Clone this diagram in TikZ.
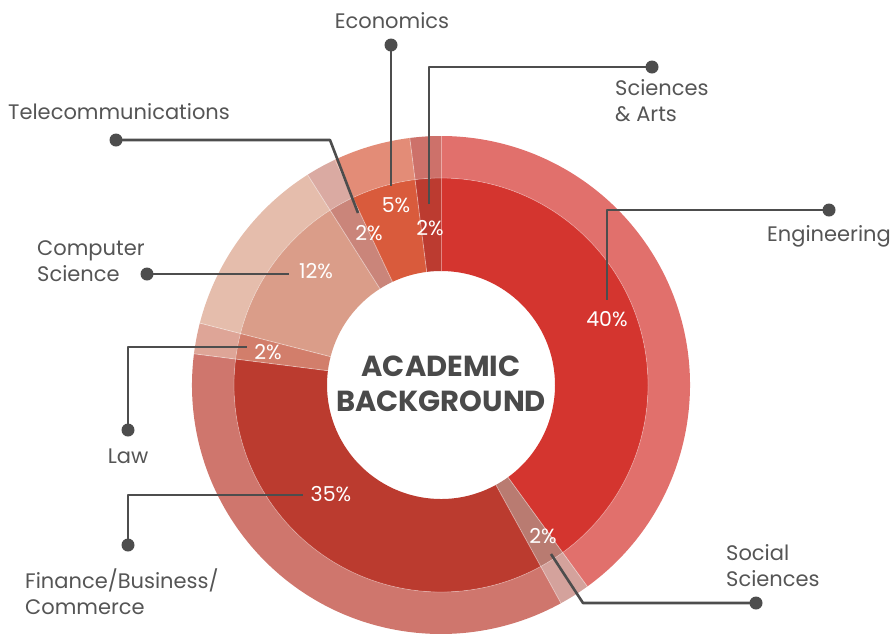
\documentclass[tikz,border=0pt]{standalone}
\usepackage{fontspec}
\setmainfont{Poppins}
\definecolor{labelgray}{HTML}{555555}
\definecolor{linegray}{HTML}{4D4D4D}
\definecolor{titlegray}{HTML}{4A4A4A}
\definecolor{engIn}{HTML}{D4352F}\definecolor{engOut}{HTML}{E1706C}
\definecolor{socIn}{HTML}{B97B71}\definecolor{socOut}{HTML}{D4A29C}
\definecolor{finIn}{HTML}{BB3B2F}\definecolor{finOut}{HTML}{CF766D}
\definecolor{lawIn}{HTML}{D27E6B}\definecolor{lawOut}{HTML}{DEA597}
\definecolor{csIn}{HTML}{DA9D89}\definecolor{csOut}{HTML}{E5BDAC}
\definecolor{telIn}{HTML}{CA857A}\definecolor{telOut}{HTML}{DAAAA2}
\definecolor{ecoIn}{HTML}{D95B3C}\definecolor{ecoOut}{HTML}{E38C77}
\definecolor{saIn}{HTML}{BC3B30}\definecolor{saOut}{HTML}{CD716A}
\newcommand\ringsector[5]{\fill[#5] ([shift={(C)}]#1:#3) arc[start angle=#1,end angle=#2,radius=#3] -- ([shift={(C)}]#2:#4) arc[start angle=#2,end angle=#1,radius=#4] -- cycle;}
\begin{document}
\begin{tikzpicture}[x=1pt,y=1pt,
  lbl/.style={font=\fontsize{21}{25.5}\selectfont, text=labelgray, inner sep=0pt},
  pct/.style={font=\fontsize{20.5}{22}\selectfont, text=white, inner sep=0pt},
  lead/.style={draw=linegray, line width=2.6pt, line join=round},
  dotn/.style={circle, fill=linegray, minimum size=13pt, inner sep=0pt}]
\useasboundingbox (0,0) rectangle (895,-633);
\coordinate (C) at (441,-385);
% inner ring
\ringsector{90}{-54}{114}{207}{engIn}
\ringsector{-54}{-61.2}{114}{207}{socIn}
\ringsector{-61.2}{-187.2}{114}{207}{finIn}
\ringsector{-187.2}{-194.4}{114}{207}{lawIn}
\ringsector{-194.4}{-237.6}{114}{207}{csIn}
\ringsector{-237.6}{-244.8}{114}{207}{telIn}
\ringsector{-244.8}{-262.8}{114}{207}{ecoIn}
\ringsector{-262.8}{-270}{114}{207}{saIn}
% outer ring
\ringsector{90}{-54}{207}{249}{engOut}
\ringsector{-54}{-61.2}{207}{249}{socOut}
\ringsector{-61.2}{-187.2}{207}{249}{finOut}
\ringsector{-187.2}{-194.4}{207}{249}{lawOut}
\ringsector{-194.4}{-237.6}{207}{249}{csOut}
\ringsector{-237.6}{-244.8}{207}{249}{telOut}
\ringsector{-244.8}{-262.8}{207}{249}{ecoOut}
\ringsector{-262.8}{-270}{207}{249}{saOut}
\foreach \a in {90,-54,-61.2,-187.2,-194.4,-237.6,-244.8,-262.8}
  \draw[white, opacity=0.4, line width=0.8pt] ([shift={(C)}]\a:114) -- ([shift={(C)}]\a:249);
\draw[white, opacity=0.25, line width=0.8pt] (C) circle (207);
% centre title
\node[name=title, font=\fontsize{29}{35}\selectfont\bfseries, text=titlegray, align=center, inner sep=0pt] at (441,-384) {ACADEMIC\\BACKGROUND};
% percentages
\node[pct, name=p1] at (607,-319) {40\%};
\node[pct, name=p2] at (543,-536) {2\%};
\node[pct, name=p3] at (331,-494) {35\%};
\node[pct, name=p4] at (268,-352) {2\%};
\node[pct, name=p5] at (316,-271) {12\%};
\node[pct, name=p6] at (369,-233) {2\%};
\node[pct, name=p7] at (396,-205) {5\%};
\node[pct, name=p8] at (430,-228) {2\%};
% labels
\node[lbl, anchor=base, name=lEco] at (392,-28) {Economics};
\node[lbl, anchor=west, align=left, name=lSA] at (615,-100.5) {Sciences\\\& Arts};
\node[lbl, anchor=base west, name=lTel] at (8,-119) {Telecommunications};
\node[lbl, anchor=west, align=left, name=lCS] at (37,-261) {Computer\\Science};
\node[lbl, anchor=base, name=lLaw] at (128,-463) {Law};
\node[lbl, anchor=west, align=left, name=lFin] at (25,-591.5) {Finance/Business/\\Commerce};
\node[lbl, anchor=west, align=left, name=lSoc] at (726,-565.5) {Social\\Sciences};
\node[lbl, anchor=base east, name=lEng] at (891,-241) {Engineering};
% leader dots
\node[dotn, name=dEco] at (391,-45) {};
\node[dotn, name=dSA] at (652,-67) {};
\node[dotn, name=dTel] at (116,-140) {};
\node[dotn, name=dCS] at (147,-274) {};
\node[dotn, name=dLaw] at (128,-430) {};
\node[dotn, name=dFin] at (128,-545) {};
\node[dotn, name=dSoc] at (756,-603) {};
\node[dotn, name=dEng] at (829,-210) {};
% leader ends and bends
\coordinate (eEco) at (391,-186);
\coordinate (eSA) at (429,-204); \coordinate (bSA) at (429,-67);
\coordinate (eTel) at (358,-213); \coordinate (bTel) at (330,-140);
\coordinate (eCS) at (289,-274);
\coordinate (eLaw) at (247,-347); \coordinate (bLaw) at (128,-347);
\coordinate (eFin) at (303,-495); \coordinate (bFin) at (128,-495);
\coordinate (eSoc) at (551,-554); \coordinate (bSoc) at (583,-603);
\coordinate (eEng) at (607,-300); \coordinate (bEng) at (607,-210);
\draw[lead] (dEco.center) -- (eEco);
\draw[lead] (eSA) -- (bSA) -- (dSA.center);
\draw[lead] (dTel.center) -- (bTel) -- (eTel);
\draw[lead] (dCS.center) -- (eCS);
\draw[lead] (dLaw.center) -- (bLaw) -- (eLaw);
\draw[lead] (dFin.center) -- (bFin) -- (eFin);
\draw[lead] (eSoc) -- (bSoc) -- (dSoc.center);
\draw[lead] (dEng.center) -- (bEng) -- (eEng);
\end{tikzpicture}
\end{document}
